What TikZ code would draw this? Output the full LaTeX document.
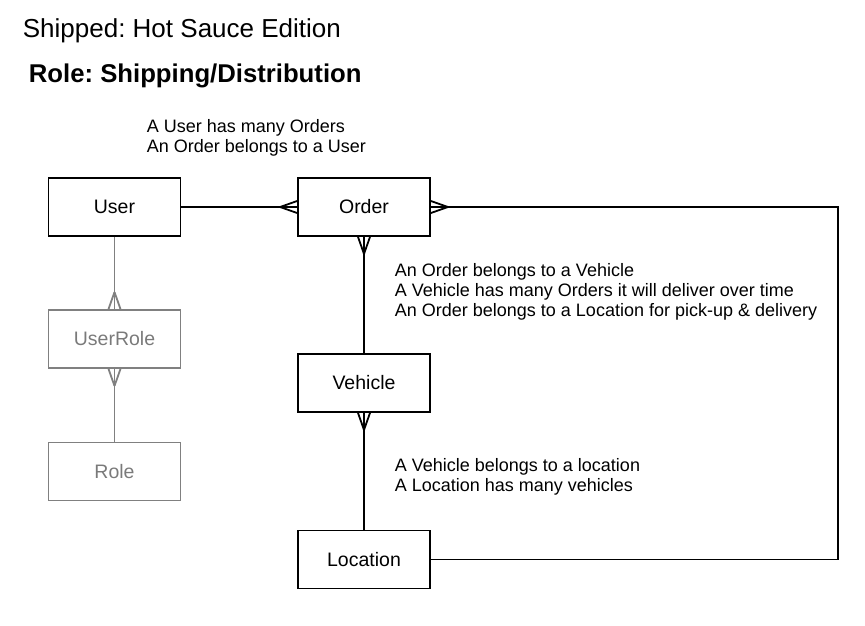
\documentclass[tikz,border=0pt]{standalone}
\usepackage{fontspec}
\setmainfont{Liberation Sans}
\usetikzlibrary{calc}
\frenchspacing
\definecolor{rolegray}{RGB}{128,128,128}
\newcommand{\crowsfoot}[4][black]{%
    \draw[#1] ($(#2)+(#3)$) -- ($(#2)+(#4)$)
              ($(#2)+(#3)$) -- ($(#2)-(#4)$);}
\tikzset{
    entity/.style={draw, minimum width=132pt, minimum height=58pt, inner sep=0pt,
                   font=\fontsize{19.5}{22}\selectfont},
    faded/.style={draw=rolegray, text=rolegray!95!black},
    note/.style={anchor=base west, align=left, inner sep=0pt,
                 font=\fontsize{18}{20}\selectfont},
}
\begin{document}
\begin{tikzpicture}[x=1pt, y=-1pt, line width=1.8pt]
    \useasboundingbox (0,0) rectangle (865,625);

    \node[anchor=base west, inner sep=0pt, font=\fontsize{26}{30}\selectfont] (title) at (22,37) {Shipped: Hot Sauce Edition};
    \node[anchor=base west, inner sep=0pt, font=\bfseries\fontsize{25.7}{30}\selectfont] (rolename) at (28,82) {Role: Shipping/Distribution};

    \node[entity] (user)     at (114.5,207)   {User};
    \node[entity] (order)    at (364,207)     {Order};
    \node[entity, faded] (userrole) at (114.5,339) {UserRole};
    \node[entity, faded] (role)     at (114.5,471.5) {Role};
    \node[entity] (vehicle)  at (364,383)     {Vehicle};
    \node[entity] (location) at (364,559.5)   {Location};
    \coordinate (loop) at (838,207);

    \node[note] (usernote)     at (146,152.5) {A User has many Orders\\An Order belongs to a User};
    \node[note] (ordernote)    at (394,316)   {An Order belongs to a Vehicle\\A Vehicle has many Orders it will deliver over time\\An Order belongs to a Location for pick-up \& delivery};
    \node[note] (vehiclenote)  at (394,491)   {A Vehicle belongs to a location\\A Location has many vehicles};

    \draw (user.east) -- (order.west);
    \crowsfoot{order.west}{-17,0}{0,6}
    \draw (order.east) -- (loop) |- (location.east);
    \crowsfoot{order.east}{17,0}{0,6}
    \draw (order.south) -- (vehicle.north);
    \crowsfoot{order.south}{0,17}{6,0}
    \draw (vehicle.south) -- (location.north);
    \crowsfoot{vehicle.south}{0,17}{6,0}

    \draw[rolegray] (user.south) -- (userrole.north);
    \crowsfoot[rolegray]{userrole.north}{0,-17}{6,0}
    \draw[rolegray] (userrole.south) -- (role.north);
    \crowsfoot[rolegray]{userrole.south}{0,17}{6,0}

\end{tikzpicture}
\end{document}
